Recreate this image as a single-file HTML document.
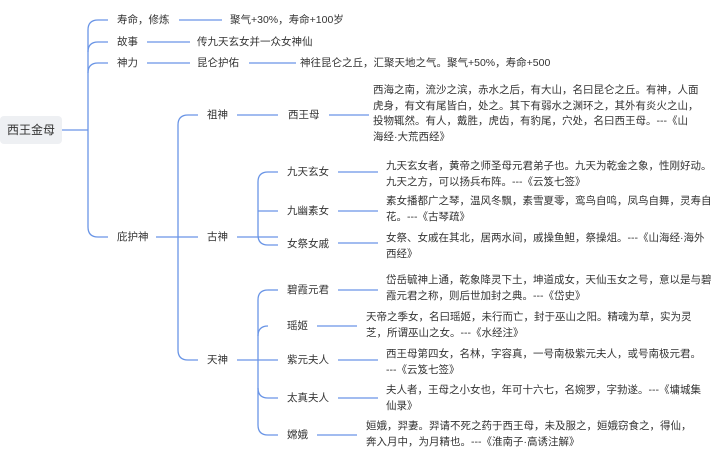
<!DOCTYPE html>
<html><head><meta charset="utf-8"><style>
body{margin:0;background:#fff;width:720px;height:455px;overflow:hidden}
svg text{font-family:"Liberation Sans","Noto Sans CJK SC",sans-serif;font-size:10.5px;fill:#333;dominant-baseline:middle}
</style></head><body>
<svg width="720" height="455" viewBox="0 0 720 455" xmlns="http://www.w3.org/2000/svg">
<g fill="none" stroke="#6a95e6" stroke-width="1.3">
<path d="M62 130 H88"/>
<path d="M98 20 Q88 20 88 30 V227 Q88 237 98 237 H108"/>
<path d="M98 42 Q88 42 88 52"/><path d="M98 63 Q88 63 88 73"/>
<path d="M98 20H108M98 42H108M98 63H108"/>
<path d="M179 20H222M147 42H190M147 63H190M249 63H296"/>
<path d="M156 237H178"/>
<path d="M188 115 Q178 115 178 125 V350 Q178 360 188 360 H198"/>
<path d="M178 237H198M188 115H198"/>
<path d="M237 115H278M329 115H369"/>
<path d="M237 237H278"/>
<path d="M268 172 Q258 172 258 182 V235 Q258 245 268 245 H278"/>
<path d="M268 172H278M258 211H278"/>
<path d="M338 172H378M338 211H378M338 243H378"/>
<path d="M237 360H278"/>
<path d="M268 290 Q258 290 258 300 V425 Q258 435 268 435 H278"/>
<path d="M268 290H278"/>
<path d="M268 326 Q258 326 258 336"/>
<path d="M258 388 Q258 398 268 398 H278"/>
<path d="M338 290H378M317 326H357M338 360H378M338 398H378M317 435H357"/>
</g>
<rect x="0" y="116" width="62" height="28" rx="4" fill="#eef0f3"/>
<text x="31" y="131" text-anchor="middle" style="font-size:12px">西王金母</text>
<text x="117" y="20">寿命，修炼</text>
<text x="230" y="20">聚气+30%，寿命+100岁</text>
<text x="117" y="42">故事</text>
<text x="197" y="42">传九天玄女并一众女神仙</text>
<text x="117" y="63">神力</text>
<text x="197" y="63">昆仑护佑</text>
<text x="300" y="63">神往昆仑之丘，汇聚天地之气。聚气+50%，寿命+500</text>
<text x="117" y="237">庇护神</text>
<text x="207" y="115">祖神</text>
<text x="288" y="115">西王母</text>
<text x="373" y="90">西海之南，流沙之滨，赤水之后，有大山，名曰昆仑之丘。有神，人面</text>
<text x="373" y="106">虎身，有文有尾皆白，处之。其下有弱水之渊环之，其外有炎火之山，</text>
<text x="373" y="121">投物辄然。有人，戴胜，虎齿，有豹尾，穴处，名曰西王母。---《山</text>
<text x="373" y="137">海经·大荒西经》</text>
<text x="207" y="237">古神</text>
<text x="287" y="172">九天玄女</text>
<text x="287" y="211">九幽素女</text>
<text x="287" y="244">女祭女戚</text>
<text x="386" y="166">九天玄女者，黄帝之师圣母元君弟子也。九天为乾金之象，性刚好动。</text>
<text x="386" y="182">九天之方，可以扬兵布阵。---《云笈七签》</text>
<text x="386" y="201">素女播都广之琴，温风冬飘，素雪夏零，鸾鸟自鸣，凤鸟自舞，灵寿自</text>
<text x="386" y="217">花。---《古琴疏》</text>
<text x="386" y="238">女祭、女戚在其北，居两水间，戚操鱼䱇，祭操俎。---《山海经·海外</text>
<text x="386" y="254">西经》</text>
<text x="207" y="360">天神</text>
<text x="287" y="290">碧霞元君</text>
<text x="287" y="326">瑶姬</text>
<text x="287" y="360">紫元夫人</text>
<text x="287" y="398">太真夫人</text>
<text x="287" y="435">嫦娥</text>
<text x="386" y="280">岱岳毓神上通，乾象降灵下土，坤道成女，天仙玉女之号，意以是与碧</text>
<text x="386" y="296">霞元君之称，则后世加封之典。---《岱史》</text>
<text x="366" y="317">天帝之季女，名曰瑶姬，未行而亡，封于巫山之阳。精魂为草，实为灵</text>
<text x="366" y="333">芝，所谓巫山之女。---《水经注》</text>
<text x="386" y="354">西王母第四女，名林，字容真，一号南极紫元夫人，或号南极元君。</text>
<text x="386" y="370">---《云笈七签》</text>
<text x="386" y="390">夫人者，王母之小女也，年可十六七，名婉罗，字勃遂。---《墉城集</text>
<text x="386" y="406">仙录》</text>
<text x="366" y="426">姮娥，羿妻。羿请不死之药于西王母，未及服之，姮娥窃食之，得仙，</text>
<text x="366" y="442">奔入月中，为月精也。---《淮南子·高诱注解》</text>
</svg>
</body></html>
